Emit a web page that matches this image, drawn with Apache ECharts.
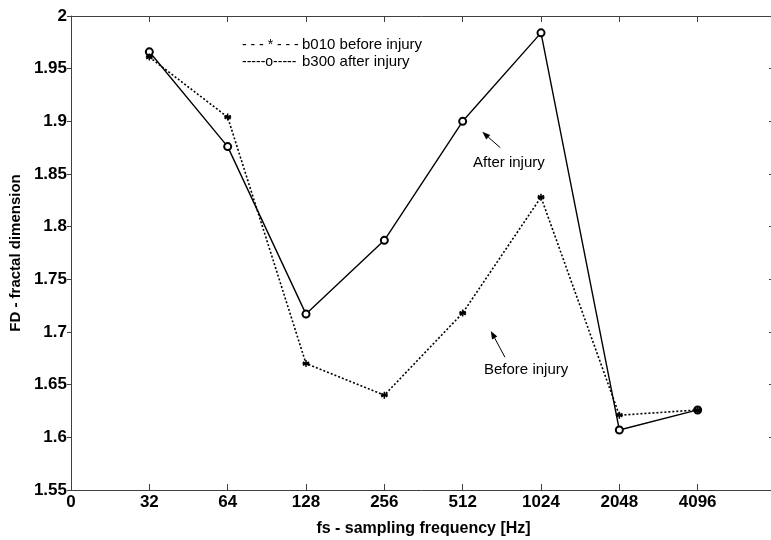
<!DOCTYPE html>
<html><head><meta charset="utf-8">
<script src="https://cdn.jsdelivr.net/npm/echarts@6/dist/echarts.min.js"></script>
<style>html,body{margin:0;padding:0;background:#fff}#c{width:771px;height:540px}</style>
</head><body><div id="c"></div>
<script>
const xTickLabels = ['0','32','64','128','256','512','1024','2048','4096'];
const fsCategories = ['32','64','128','256','512','1024','2048','4096'];
const beforeInjury = [1.961, 1.904, 1.670, 1.640, 1.718, 1.828, 1.621, 1.626];
const afterInjury  = [1.966, 1.876, 1.717, 1.787, 1.900, 1.984, 1.607, 1.626];

const toPts = arr => arr.map((v,i)=>[xTickLabels.indexOf(fsCategories[i]), v]);
const FONT = '"Liberation Sans", Arial, sans-serif';
const axisCol = '#404040';
const asterisk = 'path://M0,-5L0,5M-4.33,-2.5L4.33,2.5M-4.33,2.5L4.33,-2.5M-5,0L5,0';

const chart = echarts.init(document.getElementById('c'), null, {renderer:'canvas'});
const grid = {left:71, top:16, width:705, height:474, containLabel:false, outerBoundsMode:'none'};
chart.setOption({
  animation:false,
  backgroundColor:'#fff',
  grid: grid,
  xAxis: [{
    type:'value', min:0, max:9, interval:1, position:'bottom',
    axisLine:{show:true, onZero:false, lineStyle:{color:axisCol, width:1}},
    axisTick:{show:true, inside:true, length:6, lineStyle:{color:axisCol}},
    splitLine:{show:false},
    axisLabel:{color:'#000', fontFamily:FONT, fontWeight:'bold', fontSize:17, margin:4, hideOverlap:false,
      formatter: v => (xTickLabels[v] !== undefined ? xTickLabels[v] : '')},
    name:'fs - sampling frequency [Hz]', nameLocation:'middle', nameGap:31,
    nameTextStyle:{color:'#000', fontFamily:FONT, fontWeight:'bold', fontSize:16}
  },{
    type:'value', min:0, max:9, interval:1, position:'top',
    axisLine:{show:true, onZero:false, lineStyle:{color:axisCol, width:1}},
    axisTick:{show:true, inside:true, length:6, lineStyle:{color:axisCol}},
    axisLabel:{show:false}, splitLine:{show:false}
  }],
  yAxis: [{
    type:'value', min:1.55, max:2, interval:0.05, position:'left',
    axisLine:{show:true, onZero:false, lineStyle:{color:axisCol, width:1}},
    axisTick:{show:true, inside:false, length:4, lineStyle:{color:axisCol}},
    splitLine:{show:false},
    axisLabel:{color:'#000', fontFamily:FONT, fontWeight:'bold', fontSize:17, margin:4, hideOverlap:false,
      formatter: v => String(+v.toFixed(2))},
    name:'FD - fractal dimension', nameLocation:'middle', nameGap:47,
    nameTextStyle:{color:'#000', fontFamily:FONT, fontWeight:'bold', fontSize:15}
  },{
    type:'value', min:1.55, max:2, interval:0.05, position:'right',
    axisLine:{show:true, onZero:false, lineStyle:{color:axisCol, width:1}},
    axisTick:{show:true, inside:true, length:7, lineStyle:{color:axisCol}},
    axisLabel:{show:false}, splitLine:{show:false}
  }],
  series: [{
    name:'b300 after injury', type:'line', data: toPts(afterInjury),
    xAxisIndex:0, yAxisIndex:0,
    symbol:'emptyCircle', symbolSize:7, showAllSymbol:true,
    lineStyle:{color:'#000', width:1.4, type:'solid'},
    itemStyle:{color:'#000', borderColor:'#000', borderWidth:1}
  },{
    name:'b010 before injury', type:'line', data: toPts(beforeInjury),
    xAxisIndex:0, yAxisIndex:0,
    symbol: asterisk, symbolSize:7, showAllSymbol:true,
    lineStyle:{color:'#000', width:1.6, type:[2,2]},
    itemStyle:{color:'#000', borderColor:'#000', borderWidth:1.5}
  }]
});

function px(x,y){ return chart.convertToPixel({xAxisIndex:0, yAxisIndex:0}, [x,y]); }
function arrow(tail, head){
  const [x1,y1]=tail, [x2,y2]=head;
  const ang=Math.atan2(y2-y1,x2-x1), L=8, W=3;
  const bx=x2-L*Math.cos(ang), by=y2-L*Math.sin(ang);
  const nx=-Math.sin(ang)*W, ny=Math.cos(ang)*W;
  return [
    {type:'line', shape:{x1:x1,y1:y1,x2:bx,y2:by}, style:{stroke:'#000', lineWidth:1}},
    {type:'polygon', shape:{points:[[x2,y2],[bx+nx,by+ny],[bx-nx,by-ny]]}, style:{fill:'#000'}}
  ];
}
const tStyle = (t,x,y,extra)=>({type:'text', x:x, y:y, style:Object.assign({text:t, fill:'#000', font:'15px '+FONT, textVerticalAlign:'middle'}, extra||{})});

const beforeTxt = px(5.81, 1.664), afterTxt = px(5.59, 1.861);
const g = [
  tStyle('- - - * - - -', 242, 45, {font:'14px '+FONT}),
  tStyle('b010 before injury', 302, 45),
  tStyle('-----o-----', 242, 62, {font:'14px '+FONT}),
  tStyle('b300 after injury', 302, 62),
  tStyle('Before injury', beforeTxt[0], beforeTxt[1], {textAlign:'center'}),
  tStyle('After injury', afterTxt[0], afterTxt[1], {textAlign:'center'}),
  ...arrow(px(5.54,1.676), px(5.36,1.701)),
  ...arrow(px(5.48,1.875), px(5.25,1.890))
];
chart.setOption({graphic: g});
</script></body></html>
